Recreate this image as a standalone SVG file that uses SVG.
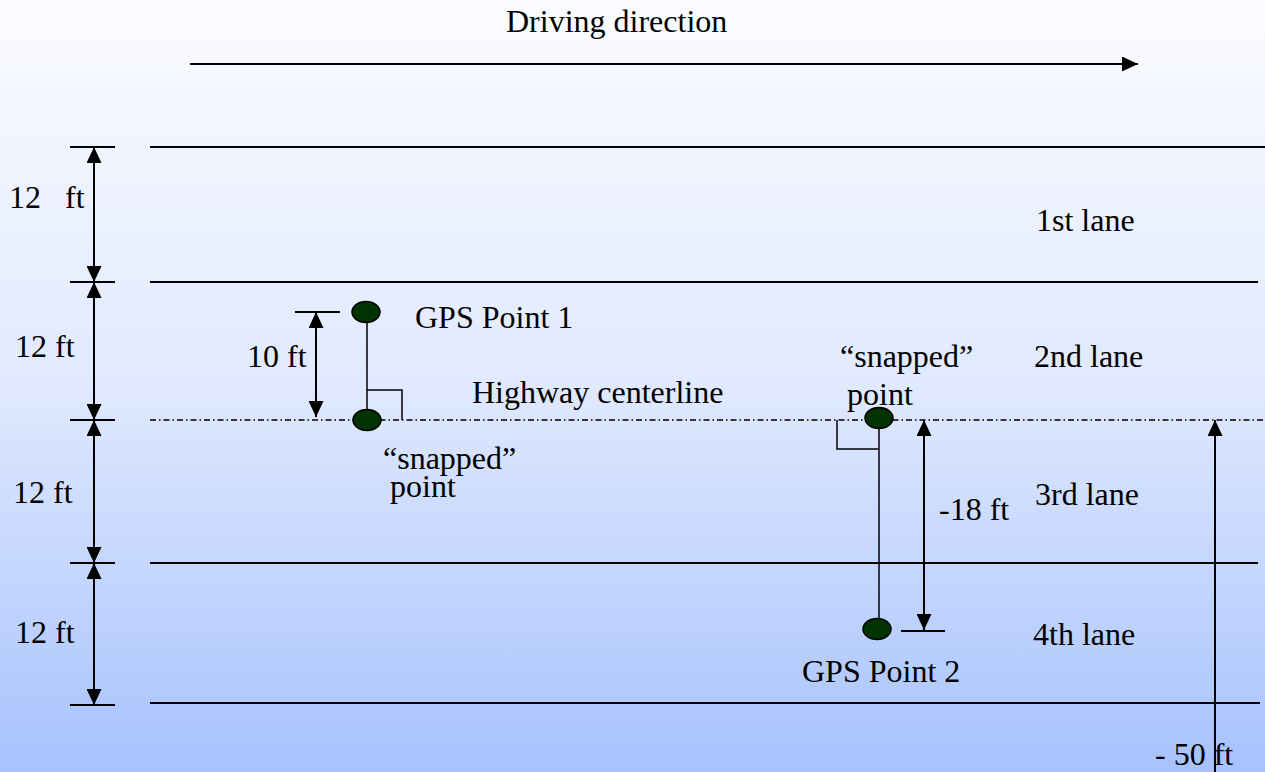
<svg xmlns="http://www.w3.org/2000/svg" width="1265" height="772" viewBox="0 0 1265 772">
<defs>
<linearGradient id="bg" x1="0" y1="0" x2="0" y2="1">
<stop offset="0" stop-color="#fbfcff"/>
<stop offset="0.5" stop-color="#e0e9fe"/>
<stop offset="1" stop-color="#a6c2fd"/>
</linearGradient>
<marker id="ah" viewBox="0 0 16 15" refX="16" refY="7.5" markerWidth="16" markerHeight="15" markerUnits="userSpaceOnUse" orient="auto-start-reverse">
<path d="M0,0 L16,7.5 L0,15 Z" fill="#000"/>
</marker>
</defs>
<style>
text{font-family:"Liberation Serif","Times New Roman",serif;font-size:32px;fill:#000;white-space:pre}
.ln{stroke:#000;stroke-width:2;fill:none}
.th{stroke:#000;stroke-width:1.5;fill:none}
.cl{stroke:#000;stroke-width:1.3;stroke-dasharray:6 3 1.5 3;fill:none}
.pt{fill:#003300;stroke:#000;stroke-width:1.5}
.dim{stroke:#000;stroke-width:2;fill:none;marker-start:url(#ah);marker-end:url(#ah)}
.one{stroke:#000;stroke-width:2;fill:none;marker-end:url(#ah)}
</style>
<rect x="0" y="0" width="1265" height="772" fill="url(#bg)"/>

<g id="lanes">
<line class="ln" x1="150" y1="147" x2="1265" y2="147"/>
<line class="ln" x1="150" y1="282" x2="1258" y2="282"/>
<line class="cl" x1="150" y1="420" x2="1265" y2="420"/>
<line class="ln" x1="150" y1="563" x2="1258" y2="563"/>
<line class="ln" x1="150" y1="703" x2="1260" y2="703"/>
</g>

<g id="connectors">
<line class="one" x1="190" y1="64" x2="1138" y2="64"/>
<line class="ln" x1="70" y1="147" x2="115" y2="147"/>
<line class="ln" x1="70" y1="282" x2="115" y2="282"/>
<line class="ln" x1="70" y1="420" x2="115" y2="420"/>
<line class="ln" x1="70" y1="563" x2="115" y2="563"/>
<line class="ln" x1="70" y1="705" x2="115" y2="705"/>
<line class="dim" x1="94" y1="147" x2="94" y2="282"/>
<line class="dim" x1="94" y1="282" x2="94" y2="420"/>
<line class="dim" x1="94" y1="420" x2="94" y2="563"/>
<line class="dim" x1="94" y1="563" x2="94" y2="705"/>
<line class="ln" x1="295" y1="312" x2="340" y2="312"/>
<line class="dim" x1="316" y1="312" x2="316" y2="417"/>
<line class="th" x1="367" y1="312" x2="367" y2="420"/>
<polyline class="th" points="367,390 402,390 402,420"/>
<line class="th" x1="879" y1="418" x2="879" y2="628"/>
<polyline class="th" points="837,420 837,449 878,449"/>
<line class="dim" x1="924" y1="420" x2="924" y2="630"/>
<line class="ln" x1="901" y1="631" x2="945" y2="631"/>
<line class="one" x1="1215" y1="772" x2="1215" y2="420"/>
</g>

<g id="gps1"><ellipse class="pt" cx="366" cy="312" rx="14" ry="10.5"/></g>
<g id="snap1"><ellipse class="pt" cx="367" cy="420" rx="14" ry="10.5"/></g>
<g id="snap2"><ellipse class="pt" cx="879" cy="418" rx="14" ry="10.5"/></g>
<g id="gps2"><ellipse class="pt" cx="877" cy="629" rx="14" ry="10.5"/></g>

<g id="labels">
<text x="506" y="32">Driving direction</text>
<text x="9" y="208" xml:space="preserve">12   ft</text>
<text x="15" y="357">12 ft</text>
<text x="13" y="503">12 ft</text>
<text x="15" y="643">12 ft</text>
<text x="1036" y="231">1st lane</text>
<text x="1034" y="367">2nd lane</text>
<text x="1035" y="505">3rd lane</text>
<text x="1033" y="645">4th lane</text>
<text x="247" y="367">10 ft</text>
<text x="415" y="328">GPS Point 1</text>
<text x="472" y="403">Highway centerline</text>
<text x="383" y="469">“snapped”</text>
<text x="390" y="497">point</text>
<text x="840" y="367">“snapped”</text>
<text x="847" y="405">point</text>
<text x="939" y="520">-18 ft</text>
<text x="802" y="682">GPS Point 2</text>
<text x="1155" y="765">- 50 ft</text>
</g>
</svg>
